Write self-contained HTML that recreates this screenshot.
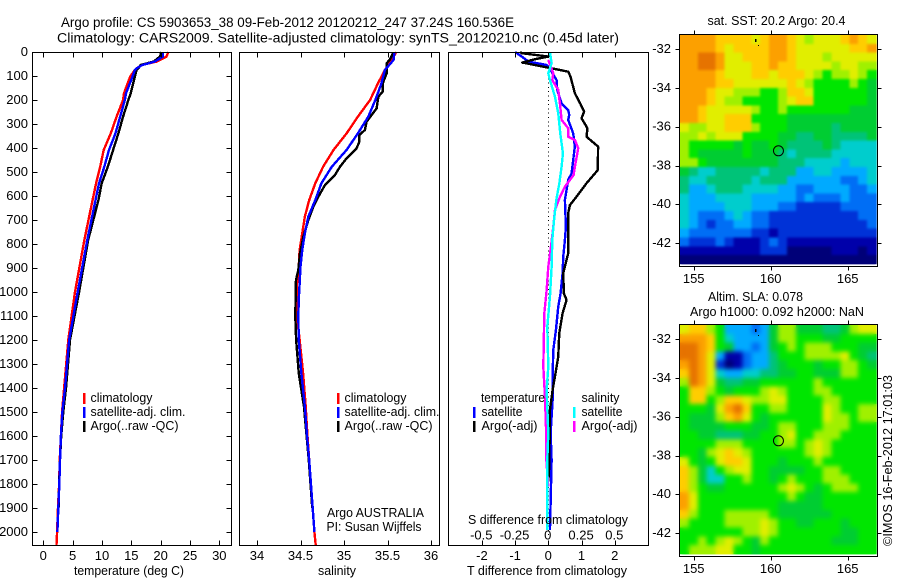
<!DOCTYPE html>
<html lang="en">
<head>
<meta charset="utf-8">
<title>Argo profile CS 5903653_38</title>
<style>
html,body{margin:0;padding:0;background:#fff;width:900px;height:580px;overflow:hidden}
svg{display:block}
text{font-family:"Liberation Sans",Arial,sans-serif;fill:#000;font-size:12.5px}
.t{font-size:13.5px}
.n{font-size:13px}
</style>
</head>
<body>
<svg id="chart" xmlns="http://www.w3.org/2000/svg" width="900" height="580" viewBox="0 0 900 580">
  <defs>
    <filter id="sstSoft" filterUnits="userSpaceOnUse" x="680" y="35" width="197" height="230" color-interpolation-filters="sRGB">
      <feGaussianBlur in="SourceGraphic" stdDeviation="1.4" result="b"/>
      <feMerge><feMergeNode in="SourceGraphic"/><feMergeNode in="b"/></feMerge>
    </filter>
    <filter id="slaSoft" filterUnits="userSpaceOnUse" x="680" y="325" width="197" height="230" color-interpolation-filters="sRGB">
      <feGaussianBlur in="SourceGraphic" stdDeviation="2.3" result="b"/>
      <feMerge><feMergeNode in="SourceGraphic"/><feMergeNode in="b"/></feMerge>
    </filter>
  </defs>
  <rect x="0" y="0" width="900" height="580" fill="#fff"/>
  <text class="t" x="61" y="27" textLength="453" lengthAdjust="spacingAndGlyphs">Argo profile: CS 5903653_38 09-Feb-2012 20120212_247 37.24S 160.536E</text>
  <text class="t" x="57" y="42.5" textLength="562" lengthAdjust="spacingAndGlyphs">Climatology: CARS2009. Satellite-adjusted climatology: synTS_20120210.nc (0.45d later)</text>

  <g id="plots"></g>

  <g>
    <rect x="83" y="393" width="2.5" height="11" fill="#f00"/>
    <rect x="83" y="407" width="2.5" height="11" fill="#00f"/>
    <rect x="83" y="421" width="2.5" height="11" fill="#000"/>
    <text x="90.5" y="402" textLength="62" lengthAdjust="spacingAndGlyphs">climatology</text>
    <text x="90.5" y="416" textLength="95" lengthAdjust="spacingAndGlyphs">satellite-adj. clim.</text>
    <text x="90.5" y="430" textLength="88" lengthAdjust="spacingAndGlyphs">Argo(..raw -QC)</text>
  </g>
  <g>
    <rect x="337" y="393" width="2.5" height="11" fill="#f00"/>
    <rect x="337" y="407" width="2.5" height="11" fill="#00f"/>
    <rect x="337" y="421" width="2.5" height="11" fill="#000"/>
    <text x="344.5" y="402" textLength="62" lengthAdjust="spacingAndGlyphs">climatology</text>
    <text x="344.5" y="416" textLength="95" lengthAdjust="spacingAndGlyphs">satellite-adj. clim.</text>
    <text x="344.5" y="430" textLength="88" lengthAdjust="spacingAndGlyphs">Argo(..raw -QC)</text>
    <text x="327" y="517" textLength="97" lengthAdjust="spacingAndGlyphs">Argo AUSTRALIA</text>
    <text x="326.5" y="531" textLength="95" lengthAdjust="spacingAndGlyphs">PI: Susan Wijffels</text>
  </g>
  <g>
    <rect x="473" y="407" width="2.5" height="11" fill="#00f"/>
    <rect x="473" y="421" width="2.5" height="11" fill="#000"/>
    <rect x="573" y="407" width="2.5" height="11" fill="#0ff"/>
    <rect x="573" y="421" width="2.5" height="11" fill="#f0f"/>
    <text x="481" y="402" textLength="64" lengthAdjust="spacingAndGlyphs">temperature</text>
    <text x="481.5" y="416" textLength="41" lengthAdjust="spacingAndGlyphs">satellite</text>
    <text x="481.5" y="430" textLength="56" lengthAdjust="spacingAndGlyphs">Argo(-adj)</text>
    <text x="581.5" y="402" textLength="38" lengthAdjust="spacingAndGlyphs">salinity</text>
    <text x="581.5" y="416" textLength="41" lengthAdjust="spacingAndGlyphs">satellite</text>
    <text x="581.5" y="430" textLength="56" lengthAdjust="spacingAndGlyphs">Argo(-adj)</text>
    <text x="468" y="524" textLength="160" lengthAdjust="spacingAndGlyphs">S difference from climatology</text>
  </g>

  <text x="74" y="575" textLength="110" lengthAdjust="spacingAndGlyphs">temperature (deg C)</text>
  <text x="318" y="575" textLength="38" lengthAdjust="spacingAndGlyphs">salinity</text>
  <text x="467" y="575" textLength="160" lengthAdjust="spacingAndGlyphs">T difference from climatology</text>

  <g id="maps"></g>

  <text x="707.5" y="25" textLength="138" lengthAdjust="spacingAndGlyphs">sat. SST: 20.2  Argo: 20.4</text>
  <text x="708" y="301" textLength="95" lengthAdjust="spacingAndGlyphs">Altim. SLA: 0.078</text>
  <text x="690" y="316" textLength="174" lengthAdjust="spacingAndGlyphs">Argo h1000: 0.092 h2000: NaN</text>
  <text transform="translate(892,546) rotate(-90)" x="0" y="0" textLength="171" lengthAdjust="spacingAndGlyphs">©IMOS 16-Feb-2012 17:01:03</text>
</svg>

<script>
/* ---------- temperature profile (deg C) ---------- */
const tempDepths = [0,19,40,54,68,75,103,172,200,269,339,408,478,547,617,783,1000,1200,1400,1500,1600,1700,1800,1900,2000,2054];
const tempClim = [21.3,21.0,19.3,16.8,15.9,15.6,14.8,13.75,13.6,12.5,11.5,10.3,9.7,9.0,8.4,7.0,5.4,4.26,3.55,3.2,3.0,2.8,2.7,2.5,2.35,2.25];
const tempSat = [20.3,20.4,19.0,16.9,15.9,15.6,15.2,14.1,13.9,13.1,12.3,11.2,10.4,9.5,8.9,7.5,5.86,4.4,3.7,3.25,3.0,2.85,2.73,2.56,2.4];
const tempArgo = [20.1,19.9,18.8,16.6,16.2,15.9,15.6,14.9,14.5,13.6,12.8,11.9,11.0,9.95,9.4,7.65,6.1,4.55,3.87,3.4,3.05,2.85,2.7,2.6];
const tempTicks = [0,5,10,15,20,25,30];

/* ---------- salinity profile ---------- */
const salDepths = [0,33,75,131,200,269,339,408,478,547,617,686,756,825,894,964,1033,1100,1200,1339,1478,1600,1700,1800,1900,2000,2054];
const salClim = [35.6,35.55,35.47,35.39,35.3,35.16,35.03,34.88,34.76,34.67,34.6,34.55,34.52,34.49,34.48,34.46,34.455,34.46,34.49,34.53,34.56,34.58,34.6,34.62,34.64,34.66,34.675];
const salSat = [35.58,35.57,35.47,35.43,35.36,35.28,35.16,35.03,34.86,34.74,34.67,34.59,34.55,34.52,34.5,34.49,34.48,34.475,34.48,34.51,34.55,34.575,34.6,34.62,34.64,34.66];
const salArgoDepths = [3,30,47,89,131,165,186,235,262,290,325,346,374,401,443,478,512,554,603,644,700,769,839,908,950,1026,1100,1200,1339,1478,1600,1700,1800,1900];
const salArgo = [35.567,35.53,35.49,35.49,35.445,35.445,35.395,35.375,35.318,35.26,35.24,35.176,35.176,35.145,35.03,34.954,34.897,34.782,34.705,34.648,34.59,34.533,34.494,34.475,34.448,34.444,34.44,34.45,34.48,34.54,34.57,34.595,34.615,34.635];
const salTicks = [34,34.5,35,35.5,36];

/* ---------- differences from climatology ---------- */
const dtSatDepths = [0,19,40,54,82,117,158,214,242,262,283,339,394,450,506,533,617,728,783,853,922,1006,1061,1158,1242,1353,1450,1589,1700,1992];
const dtSat = [-1,-0.8,-0.6,-0.05,0.1,0.25,0.27,0.4,0.6,0.63,0.6,0.75,0.8,0.75,0.7,0.6,0.5,0.53,0.5,0.45,0.43,0.37,0.3,0.23,0.15,0.13,0.13,0.07,0.1,0.05];
const dtArgoDepths = [0,5,19,30,44,64,68,82,103,172,214,249,276,318,353,394,492,547,603,638,672,783,839,922,1006,1033,1089,1172,1269,1352,1408,1492,1725,1790];
const dtArgo = [-0.85,-0.8,0,-0.4,-0.78,-0.05,0.1,0.6,0.67,0.8,0.96,1.08,1.0,1.18,1.15,1.5,1.49,1.15,0.85,0.65,0.6,0.6,0.6,0.45,0.47,0.55,0.43,0.33,0.3,0.2,0.13,0.05,0.03,0];
const dsSatDepths = [0,47,89,117,186,256,339,422,478,547,617,700,783,894,1019,1144,1311,1408,1589,1700,1992];
const dsSat = [0.0125,0.025,0,0.0125,0.05,0.075,0.09,0.11,0.1,0.083,0.06,0.043,0.03,0.025,0.0125,-0.0075,0,-0.0125,0,-0.0075,-0.0075];
const dsArgoDepths = [33,89,117,158,228,283,318,353,367,401,478,513,561,603,658,728,811,894,992,1089,1311,1436,1561,1679,1811];
const dsArgo = [0,0.0375,0.03,0.075,0.09,0.1,0.15,0.15,0.2,0.225,0.2,0.19,0.125,0.088,0.05,0.0375,0.02,0,-0.0125,-0.03,-0.0375,-0.025,-0.0175,-0.0175,0];
const dtTicks = [-2,-1,0,1,2];
const dsTicks = [-0.5,-0.25,0,0.25,0.5];
const dsTickLabels = ['-0.5','-0.25','0','0.25','0.5'];
const depthTicks = [0,100,200,300,400,500,600,700,800,900,1000,1100,1200,1300,1400,1500,1600,1700,1800,1900,2000];

/* ---------- map panels: colour-scale level per grid cell (0 navy ... 13 dark orange) ---------- */
const sstLevels = [
[12,12,12,12,11,11,11,11,10,11,12,12,11,10,9,10,10,10,11,12,11,10],
[12,12,12,12,11,10,11,11,11,11,12,12,11,10,10,10,10,10,10,11,11,12],
[12,12,13,13,12,10,10,11,11,11,12,12,11,10,10,10,9,10,10,10,10,10],
[12,12,13,13,12,10,10,10,11,11,12,11,11,10,10,10,10,9,10,10,9,9],
[12,12,12,12,11,10,10,10,11,11,10,11,11,11,10,9,8,9,9,10,9,8],
[12,12,12,12,11,11,10,10,10,10,10,10,11,10,9,8,8,8,8,9,8,7],
[12,12,12,11,10,10,9,9,9,8,8,9,11,11,10,8,8,8,8,8,8,7],
[12,12,12,11,10,9,9,8,8,8,8,9,10,11,11,8,8,8,8,8,8,7],
[12,12,11,10,10,10,10,10,9,8,8,9,8,8,8,8,8,8,8,7,7,7],
[12,12,11,10,10,11,11,11,8,8,8,8,7,7,7,7,7,7,7,7,7,7],
[10,9,9,10,10,11,11,11,9,8,8,8,7,7,7,7,7,6,7,7,7,7],
[9,9,10,9,10,10,10,8,8,8,8,7,7,6,6,7,7,6,6,6,6,7],
[9,8,8,8,8,8,7,8,7,7,8,7,6,6,6,6,7,6,5,5,5,5],
[9,8,7,7,7,7,7,8,7,7,7,6,5,6,6,6,6,5,5,5,5,5],
[9,9,8,7,7,7,7,7,7,7,7,6,6,6,5,5,5,5,4,5,5,5],
[7,6,5,5,6,6,6,6,6,5,6,6,6,4,4,5,5,4,4,4,4,5],
[6,5,5,6,6,6,6,6,5,6,6,6,4,4,4,4,4,4,3,3,4,5],
[6,4,4,5,6,6,6,5,5,5,5,4,4,3,3,4,4,4,4,3,3,4],
[5,4,4,4,5,5,5,5,4,4,4,4,4,3,4,3,3,3,4,3,3,3],
[5,4,4,4,4,5,5,5,4,4,4,3,3,2,2,2,2,2,3,3,3,3],
[5,4,3,3,3,4,5,4,3,3,2,2,2,2,2,2,2,2,2,2,3,3],
[5,4,3,2,3,3,4,4,3,3,2,2,2,2,2,2,2,2,2,2,2,3],
[4,3,3,3,3,3,3,3,2,2,1,2,2,2,2,2,2,2,2,2,2,2],
[3,2,2,2,3,2,1,1,1,2,3,2,1,1,1,1,1,1,1,1,1,1],
[1,1,1,1,1,1,1,1,1,2,2,2,0,0,0,0,0,1,1,1,0,1],
[0,0,0,0,0,0,0,0,0,0,0,0,0,0,0,0,0,0,0,0,0,0]
];
const slaLevels = [
[10,11,11,9,8,4,4,4,3,4,7,9,9,7,7,7,6,6,7,9,10,10],
[12,12,12,11,8,5,4,4,4,4,7,9,9,8,8,8,7,7,8,8,8,8],
[13,13,12,11,8,7,4,4,3,4,7,8,9,8,9,9,9,8,8,8,7,7],
[13,13,12,10,4,1,1,3,4,4,6,8,8,8,9,9,9,9,10,8,7,6],
[12,13,12,10,2,0,1,3,4,4,6,7,8,8,8,7,8,8,9,9,8,7],
[11,13,12,10,5,4,4,5,5,6,6,7,7,8,8,7,7,7,9,9,8,8],
[9,13,12,10,7,6,6,7,7,8,8,8,8,8,8,9,8,8,8,8,8,8],
[8,11,11,9,8,7,8,8,8,9,10,9,8,8,8,9,9,8,8,8,8,8],
[8,11,11,8,9,11,11,10,9,9,10,10,8,8,8,8,9,9,8,8,8,8],
[8,8,8,7,10,12,13,11,8,8,9,9,8,8,8,8,10,9,8,8,9,9],
[8,7,7,7,9,11,12,10,8,7,8,8,8,8,8,8,10,9,9,8,9,9],
[8,7,7,7,7,8,8,8,7,7,8,9,9,8,8,8,9,9,9,8,8,8],
[8,8,7,7,6,6,6,7,7,8,8,9,10,8,8,9,9,9,8,8,8,8],
[8,8,8,8,9,9,9,8,8,8,8,9,9,8,9,10,9,8,8,8,8,8],
[8,8,7,9,10,11,10,9,8,8,8,8,8,8,9,10,9,8,8,8,8,8],
[10,8,7,8,10,11,11,10,8,8,8,7,8,8,8,9,8,8,8,8,8,8],
[11,9,7,5,8,9,10,10,8,8,7,7,7,7,8,8,9,9,8,8,8,8],
[11,9,7,5,5,8,8,9,8,8,7,8,9,8,8,8,9,9,9,8,8,8],
[11,9,8,7,7,8,8,8,8,8,8,9,10,9,8,7,8,9,9,9,8,8],
[12,10,8,8,8,8,8,8,8,8,8,8,9,8,7,7,8,8,8,8,8,8],
[12,10,8,8,8,8,8,8,8,8,8,7,7,7,7,7,8,8,8,8,8,8],
[11,9,8,8,8,9,9,9,9,9,8,7,7,7,7,7,7,8,8,8,8,8],
[9,8,8,8,8,9,9,9,9,10,9,8,8,7,7,8,8,8,7,8,8,8],
[8,8,8,8,8,8,8,9,9,10,9,8,8,8,8,8,8,8,7,7,8,8],
[8,8,9,8,9,10,9,8,7,9,8,8,8,8,8,8,8,7,7,7,8,8],
[8,9,9,9,10,10,8,8,7,8,8,8,8,8,8,8,8,8,8,8,8,8]
];
const lonTicks = [155,160,165];
const latTicks = [-32,-34,-36,-38,-40,-42];
const floatLon = [160.536];
const floatLat = [-37.24];

const levelColors = ['#000078','#0000aa','#0032d7','#006ef5','#00aaff','#00cdcd','#00c378','#00cd32','#00e600','#a0f000','#e1ee00','#ffcd00','#fca000','#e67300'];

/* ---------- axis functions ---------- */
const depthY = d => 52 + d * 0.24;
const tempX = v => 43.3 + v * 5.867;
const salX = v => 257 + (v - 34) * 87;
const dtX = v => 548.3 + v * 33.2;
const dsX = v => 548.3 + v * 133;
const lonX = v => 693.7 + (v - 155) * 15.4;
const latY = v => 49.3 + (-32 - v) * 19.37;

const NS = 'http://www.w3.org/2000/svg';
const plots = document.getElementById('plots');
const maps = document.getElementById('maps');
const LINE_W = 2.4;

function mk(tag, parent, attrs) {
  const el = document.createElementNS(NS, tag);
  for (const k in attrs) el.setAttribute(k, attrs[k]);
  parent.appendChild(el);
  return el;
}

function frame(parent, x0, x1, y0, y1) {
  const r = mk('rect', parent, {x:x0, y:y0, width:x1-x0, height:y1-y0, fill:'none', stroke:'#000', 'stroke-width':1, 'shape-rendering':'crispEdges'});
  
  
  return r;
}

function tick(parent, x1, y1, x2, y2) {
  const l = mk('line', parent, {x1:x1, y1:y1, x2:x2, y2:y2, stroke:'#000', 'stroke-width':1, 'shape-rendering':'crispEdges'});
  
  
}

function label(parent, x, y, str, anchor) {
  const t = mk('text', parent, {x:x, y:y, class:'n', 'text-anchor':anchor});
  t.textContent = str;
  
  
}

function series(parent, depths, values, xFn, color, name, width) {
  const n = Math.min(depths.length, values.length);
  const pts = [];
  for (let i = 0; i < n; i++) pts.push(xFn(values[i]).toFixed(2) + ',' + depthY(depths[i]).toFixed(2));
  const p = mk('polyline', parent, {points:pts.join(' '), fill:'none', stroke:color, 'stroke-width':width, 'stroke-linejoin':'round', 'shape-rendering':'crispEdges'});
  
  
}

/* ---------- panel 1: temperature ---------- */
const pTemp = mk('g', plots, {});


series(pTemp, tempDepths, tempClim, tempX, '#f00', 'temperature-climatology-line', LINE_W);
series(pTemp, tempDepths, tempArgo, tempX, '#000', 'temperature-argo-line', LINE_W);
series(pTemp, tempDepths, tempSat, tempX, '#00f', 'temperature-satellite-line', LINE_W);
frame(pTemp, 32.5, 231.5, 52.5, 545.5);
tempTicks.forEach(v => {
  const x = Math.round(tempX(v)) + 0.5;
  tick(pTemp, x, 52.5, x, 57.5);
  tick(pTemp, x, 540.5, x, 545.5);
  label(pTemp, tempX(v), 560, String(v), 'middle');
});
depthTicks.forEach(d => {
  const y = Math.round(depthY(d)) + 0.5;
  tick(pTemp, 32.5, y, 37.5, y);
  tick(pTemp, 226.5, y, 231.5, y);
  label(pTemp, 28, depthY(d) + 3.8, String(d), 'end');
});

/* ---------- panel 2: salinity ---------- */
const pSal = mk('g', plots, {});


series(pSal, salDepths, salClim, salX, '#f00', 'salinity-climatology-line', LINE_W);
series(pSal, salArgoDepths, salArgo, salX, '#000', 'salinity-argo-line', LINE_W);
series(pSal, salDepths, salSat, salX, '#00f', 'salinity-satellite-line', LINE_W);
frame(pSal, 239.5, 439.5, 52.5, 545.5);
salTicks.forEach(v => {
  const x = Math.round(salX(v)) + 0.5;
  tick(pSal, x, 52.5, x, 57.5);
  tick(pSal, x, 540.5, x, 545.5);
  label(pSal, salX(v), 560, String(v), 'middle');
});

/* ---------- panel 3: differences ---------- */
const pDiff = mk('g', plots, {});


const zero = mk('line', pDiff, {x1:548.5, y1:52.5, x2:548.5, y2:545, stroke:'#000', 'stroke-width':1, 'stroke-dasharray':'1 3.3', 'shape-rendering':'crispEdges'});


series(pDiff, dtSatDepths, dtSat, dtX, '#00f', 'temperature-diff-satellite-line', LINE_W);
series(pDiff, dtArgoDepths, dtArgo, dtX, '#000', 'temperature-diff-argo-line', LINE_W);
series(pDiff, dsArgoDepths, dsArgo, dsX, '#f0f', 'salinity-diff-argo-line', LINE_W);
series(pDiff, dsSatDepths, dsSat, dsX, '#0ff', 'salinity-diff-satellite-line', LINE_W);
frame(pDiff, 448.5, 648.5, 52.5, 545.5);
dtTicks.forEach(v => {
  const x = Math.round(dtX(v)) + 0.5;
  tick(pDiff, x, 52.5, x, 57.5);
  tick(pDiff, x, 540.5, x, 545.5);
  label(pDiff, dtX(v), 560, String(v), 'middle');
});
dsTicks.forEach((v, i) => {
  label(pDiff, dsX(v) - 0.5, 539.5, dsTickLabels[i], 'middle');
});

/* ---------- maps ---------- */
function drawMap(name, levels, offsetY, filterId) {
  const g = mk('g', maps, {});
  
  
  const cells = mk('g', g, {filter:'url(#' + filterId + ')', 'shape-rendering':'crispEdges'});
  
  
  const lon0 = 154.11, lat0 = -31.26, dLon = 0.5785, dLat = 0.4545;
  levels.forEach((row, r) => {
    row.forEach((lv, c) => {
      const x0 = lonX(lon0 + c * dLon), x1 = lonX(lon0 + (c + 1) * dLon);
      const y0 = latY(lat0 - r * dLat) + offsetY, y1 = latY(lat0 - (r + 1) * dLat) + offsetY;
      const cell = mk('rect', cells, {x:x0.toFixed(2), y:y0.toFixed(2), width:(x1 - x0 + 0.3).toFixed(2), height:(y1 - y0 + 0.3).toFixed(2), fill:levelColors[lv]});
      
      
    });
  });
  frame(g, 679.5, 877.5, 34.5 + offsetY, 266.5 + offsetY);
  lonTicks.forEach(v => {
    const x = Math.round(lonX(v)) + 0.5;
    tick(g, x, 30.5 + offsetY, x, 34.5 + offsetY);
    tick(g, x, 266.5 + offsetY, x, 270.5 + offsetY);
    label(g, lonX(v), 283 + offsetY, String(v), 'middle');
  });
  latTicks.forEach(v => {
    const y = Math.round(latY(v) + offsetY) + 0.5;
    tick(g, 675.5, y, 679.5, y);
    tick(g, 877.5, y, 881.5, y);
    label(g, 671, latY(v) + offsetY + 3.8, String(v), 'end');
  });
  const cx = lonX(floatLon[0]) - 0.5, cy = latY(floatLat[0]) + offsetY;
  const circ = mk('circle', g, {cx:cx, cy:cy, r:5, fill:'none', stroke:'#000', 'stroke-width':1});
  
  
  const island = mk('rect', g, {x:755, y:39 + offsetY, width:1.5, height:3, fill:'#000', 'shape-rendering':'crispEdges'});
  
  
  const islet = mk('rect', g, {x:758, y:45 + offsetY, width:1, height:1, fill:'#000', 'shape-rendering':'crispEdges'});
  
  
}
drawMap('sst-map', sstLevels, 0, 'sstSoft');
drawMap('sla-map', slaLevels, 290, 'slaSoft');
</script>
</body>
</html>
